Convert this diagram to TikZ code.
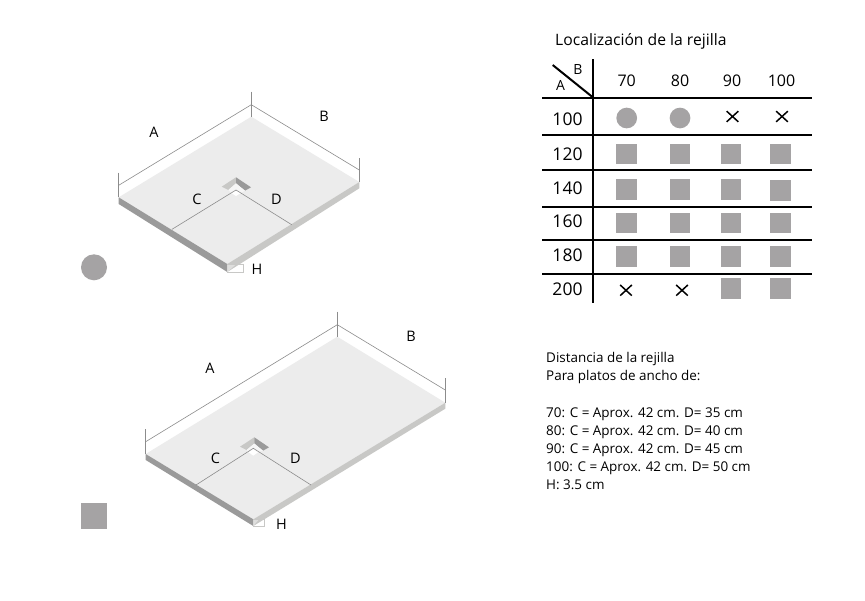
\documentclass[tikz,border=0pt]{standalone}
\usepackage{fontspec}
\setmainfont{Open Sans}
\definecolor{plate}{HTML}{ECECEC}
\definecolor{sideA}{HTML}{9A9A9A}
\definecolor{sideB}{HTML}{C8C8C6}
\definecolor{dim}{HTML}{8C8C8C}
\definecolor{mark}{HTML}{A5A3A4}
\tikzset{
  x=1pt,y=-1pt,
  dimline/.style={draw=dim,line width=.6pt},
  letter/.style={font=\fontsize{14.5}{16}\selectfont,inner sep=0pt,text=black},
  head/.style={font=\fontsize{16}{18}\selectfont,inner sep=0pt},
  rowlab/.style={font=\fontsize{17.5}{20}\selectfont,inner sep=0pt},
  note/.style={font=\fontsize{13.45}{18}\selectfont,inner sep=0pt,anchor=base west},
  rule/.style={line width=2.3pt,draw=black},
  sq/.style={fill=mark,draw=none,minimum size=20.7pt,inner sep=0pt},
  ci/.style={fill=mark,draw=none,circle,minimum size=20.7pt,inner sep=0pt},
}
\begin{document}
\begin{tikzpicture}
\useasboundingbox (0,0) rectangle (865,600);
\fill[white] (0,0) rectangle (865,600);

% ---- upper plate
\coordinate (t1) at (251.3,116.7); \coordinate (l1) at (118.7,197.3);
\coordinate (r1) at (359.3,182);   \coordinate (b1) at (227.3,264);
\fill[plate] (t1)--(r1)--(b1)--(l1)--cycle;
\fill[sideA] (l1)--(b1)--(227.3,272)--(118.7,204)--cycle;
\fill[sideB] (b1)--(r1)--(359.3,188.3)--(227.3,272)--cycle;
\draw[dimline] (118.7,172.7)--(118.7,197.3);
\draw[dimline] (251.3,91.7)--(251.3,116.7);
\draw[dimline] (359.3,158.3)--(359.3,182);
\draw[dimline] (118.7,185.3)--(251.3,104.7)--(359.3,170);
\fill[sideB] (221.7,186.7)--(236,177.3)--(236,183.3)--(228.3,190)--cycle;
\fill[sideA] (236,177.3)--(251,187.3)--(245,190.7)--(236,183.3)--cycle;
\fill[plate!50!white] (228.3,190)--(236,183.3)--(245,190.7)--(240.7,192.7)--(236,190)--(231.3,192.7)--cycle;
\fill[white] (236,190)--(240.7,193)--(236,196)--(231.3,193)--cycle;
\coordinate (c1) at (172,229.3); \coordinate (a1) at (236,190); \coordinate (d1) at (291.7,224.7);
\draw[dimline] (c1)--(a1)--(d1);
\fill[sideB!60!white] (227.3,264.3)--(236,264.3)--(227.3,272)--cycle;
\draw[draw=sideB,line width=.6pt] (227.3,264.3)--(243.3,264.3)--(243.3,272)--(227.3,272);
\node[letter] (A1) at (154,132.5) {A};
\node[letter] (B1) at (324,116) {B};
\node[letter] (C1) at (197,199) {C};
\node[letter] (D1) at (276.5,199) {D};
\node[letter] (H1) at (257,269.5) {H};
\node[fill=mark,circle,minimum size=26pt,inner sep=0pt] (leg1) at (94,267.3) {};

% ---- lower plate
\coordinate (t2) at (337.3,336.7); \coordinate (l2) at (145.7,454);
\coordinate (r2) at (445.3,402.7); \coordinate (b2) at (253.3,519.3);
\fill[plate] (t2)--(r2)--(b2)--(l2)--cycle;
\fill[sideA] (l2)--(b2)--(253.3,526)--(145.7,460)--cycle;
\fill[sideB] (b2)--(r2)--(445.3,408.7)--(253.3,526)--cycle;
\draw[dimline] (145.7,429.3)--(145.7,454);
\draw[dimline] (337.3,311.7)--(337.3,336.7);
\draw[dimline] (445.3,378.3)--(445.3,402.7);
\draw[dimline] (145.7,441.7)--(337.3,324.7)--(445.3,390);
\fill[sideB] (240,446.7)--(254.3,437.3)--(254.3,443.5)--(246.5,450)--cycle;
\fill[sideA] (254.3,437.3)--(269,447.3)--(263,450.7)--(254.3,443.5)--cycle;
\fill[plate!50!white] (246.5,450)--(254.3,443.5)--(263,450.7)--(258,452)--(253.3,449)--(248.6,452)--cycle;
\fill[white] (253.3,449)--(258,452.3)--(253.3,455.7)--(248.6,452.3)--cycle;
\coordinate (c2) at (196,485); \coordinate (a2) at (253.3,448.3); \coordinate (d2) at (311,485);
\draw[dimline] (c2)--(a2)--(d2);
\fill[sideB!60!white] (253.3,519.3)--(259,519.3)--(253.3,526)--cycle;
\draw[draw=sideB,line width=.6pt] (253.3,519.3)--(264,519.3)--(264,526)--(253.3,526);
\node[letter] (A2) at (210,368) {A};
\node[letter] (B2) at (411,336.5) {B};
\node[letter] (C2) at (215.5,458) {C};
\node[letter] (D2) at (295.5,458) {D};
\node[letter] (H2) at (281.5,524) {H};
\node[sq,minimum size=26pt] (leg2) at (94.3,515.5) {};

% ---- table
\node[font=\fontsize{15.7}{18}\selectfont,inner sep=0pt,anchor=base west] (title) at (555,45) {Localización de la rejilla};
\draw[rule] (593.3,59.3)--(593.3,302.7);
\foreach \y in {97.7,134.7,170,206.7,240,274} \draw[rule] (542,\y)--(811.7,\y);
\draw[line width=2pt] (552.7,65)--(593.3,97.7);
\node[font=\fontsize{14}{15}\selectfont,inner sep=0pt] (hB) at (578,69.5) {B};
\node[font=\fontsize{14}{15}\selectfont,inner sep=0pt] (hA) at (560.5,85.5) {A};
\node[head] (c70) at (626.7,81) {70};
\node[head] (c80) at (680,81) {80};
\node[head] (c90) at (732,81) {90};
\node[head] (c100) at (781.5,81) {100};
\node[rowlab] (r100) at (567.5,119.5) {100};
\node[rowlab] (r120) at (567.5,154) {120};
\node[rowlab] (r140) at (567.5,188) {140};
\node[rowlab] (r160) at (567.5,221.7) {160};
\node[rowlab] (r180) at (567.5,255.7) {180};
\node[rowlab] (r200) at (567.5,289.3) {200};
\node[ci] at (626.7,118) {}; \node[ci] at (680,118) {};
\foreach \x/\y in {732.5/116.5,782/116.5,626/290.3,682/290.3}{
  \draw[line width=1.5pt] (\x-5.8,\y-5.3)--(\x+5.8,\y+5.3) (\x-5.8,\y+5.3)--(\x+5.8,\y-5.3);
}
\foreach \y in {154,189.3,223,256.3}{
  \node[sq] at (626.7,\y) {}; \node[sq] at (680,\y) {}; \node[sq] at (731,\y) {};
}
\foreach \y in {154,190.3,223,256.3}{\node[sq] at (780.3,\y) {};}
\node[sq] at (731,288.7) {}; \node[sq] at (780.3,288.7) {};

% ---- notes
\node[note] (n1) at (546,362) {Distancia de la rejilla};
\node[note] (n2) at (546,380) {Para platos de ancho de:};
\node[note] (n3) at (546,417) {70: C = Aprox. 42 cm. D= 35 cm};
\node[note] (n4) at (546,435) {80: C = Aprox. 42 cm. D= 40 cm};
\node[note] (n5) at (546,453) {90: C = Aprox. 42 cm. D= 45 cm};
\node[note] (n6) at (546,471) {100: C = Aprox. 42 cm. D= 50 cm};
\node[note] (n7) at (546,489) {H: 3.5 cm};
\end{tikzpicture}
\end{document}
